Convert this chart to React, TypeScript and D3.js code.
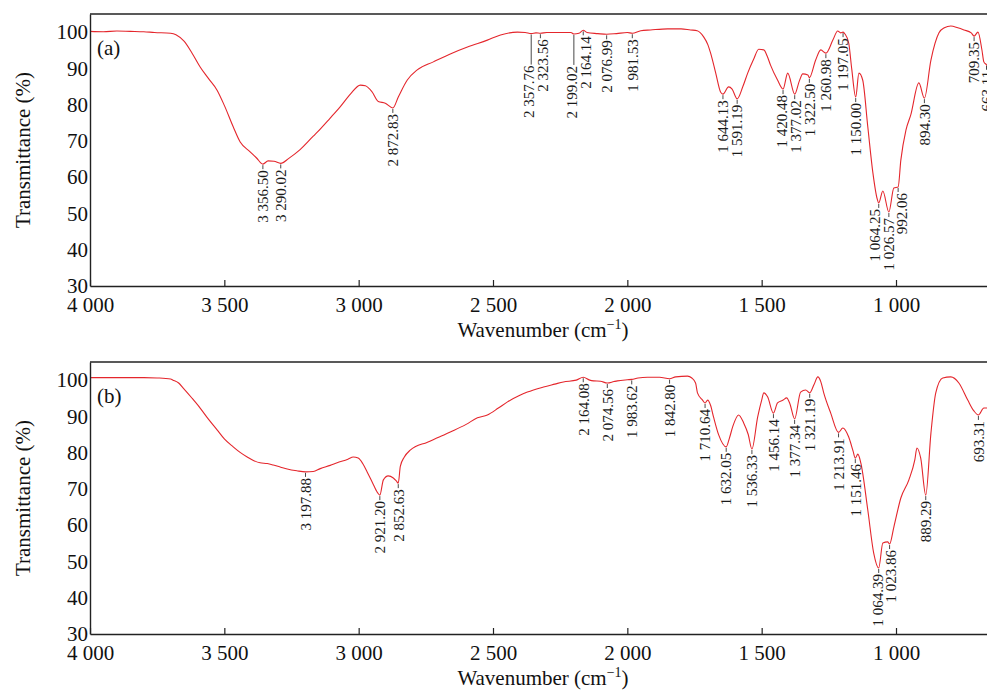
import * as d3 from 'd3';
import { useEffect, useRef } from 'react';

// FTIR spectrum (a): [wavenumber, transmittance %]
const spectrumA: [number, number][] = [
    [4000, 100.2], [3950, 100.1], [3900, 100.3], [3850, 100.2], [3800, 100.1], [3760, 99.9],
    [3700, 99.7], [3680, 99.3], [3650, 97.5], [3620, 94.2], [3590, 90.4], [3560, 87.3],
    [3527, 84.0], [3500, 79.8], [3467, 73.9], [3441, 69.7], [3404, 67.0], [3380, 65.3],
    [3356.5, 63.6], [3337, 64.5], [3315, 64.4], [3290.02, 63.8], [3260, 65.2], [3218, 67.6],
    [3169, 71.3], [3154, 72.4], [3106, 76.3], [3069, 79.4], [3030, 83.0], [2994, 85.4],
    [2975, 85.2], [2950, 83.5], [2927, 80.9], [2901, 80.4], [2872.83, 79.1], [2852, 82.2],
    [2819, 86.8], [2782, 89.6], [2722, 91.8], [2659, 94.0], [2595, 95.9], [2521, 97.8],
    [2472, 99.2], [2409, 100.0], [2380, 99.9], [2357.76, 99.6], [2340, 99.8], [2323.56, 99.7],
    [2300, 99.9], [2250, 99.9], [2210, 99.9], [2199.02, 99.5], [2180, 99.7], [2164.14, 100.5],
    [2150, 99.9], [2110, 99.6], [2076.99, 99.4], [2040, 99.6], [2000, 99.9], [1981.53, 99.7],
    [1950, 100.4], [1914, 100.6], [1850, 100.9], [1800, 100.9], [1765, 100.6], [1740, 100.4],
    [1716, 98.7], [1700, 96.5], [1690, 94.2], [1671, 88.7], [1653, 83.5], [1644.13, 82.9],
    [1623, 84.9], [1610, 84.3], [1591.19, 81.6], [1570, 85.0], [1552, 88.7], [1530, 92.5],
    [1511, 95.3], [1492, 95.1], [1480, 93.5], [1467, 90.9], [1441, 86.8], [1420.48, 84.3],
    [1403, 88.7], [1377.02, 82.9], [1360, 86.5], [1347, 88.5], [1328, 88.2], [1322.5, 87.4],
    [1299, 92.3], [1280, 95.1], [1260.98, 94.2], [1235, 97.8], [1217, 100.3], [1206, 99.8],
    [1197.05, 100.0], [1190, 99.5], [1176, 97.0], [1165, 90.0], [1150, 82.1], [1138, 88.7],
    [1124, 86.8], [1105, 73.9], [1086, 61.2], [1070, 54.0], [1064.25, 52.9], [1049, 56.2],
    [1026.57, 50.4], [1008, 57.0], [992.06, 57.3], [982, 64.7], [963, 73.0], [945, 77.2],
    [915, 86.0], [894.3, 81.8], [870, 92.3], [840, 99.8], [820, 101.2], [796, 101.7],
    [770, 101.2], [747, 100.6], [720, 99.8], [709.35, 98.9], [695, 100.0], [680, 95.0],
    [673, 91.8], [663.11, 91.0], [650, 89.0],
];
const peaksA = [
    3356.5, 3290.02, 2872.83, 2357.76, 2323.56, 2199.02, 2164.14, 2076.99, 1981.53, 1644.13,
    1591.19, 1420.48, 1377.02, 1322.5, 1260.98, 1197.05, 1150.0, 1064.25, 1026.57, 992.06,
    894.3, 709.35, 663.11,
];
// peaks whose label hangs off a long leader line
const leadersA = [2357.76, 2199.02];

// FTIR spectrum (b)
const spectrumB: [number, number][] = [
    [4000, 100.7], [3900, 100.7], [3800, 100.7], [3750, 100.6], [3700, 100.3], [3691, 100.0],
    [3670, 99.2], [3653, 97.8], [3620, 95.0], [3590, 92.3], [3560, 89.3], [3527, 86.3],
    [3500, 83.8], [3467, 81.6], [3440, 80.0], [3415, 78.8], [3390, 77.8], [3367, 77.2],
    [3340, 77.0], [3318, 76.6], [3290, 76.0], [3266, 75.5], [3230, 75.0], [3197.88, 74.7],
    [3169, 74.8], [3143, 75.6], [3106, 76.5], [3080, 77.2], [3040, 78.2], [3020, 78.8],
    [3002, 78.5], [2985, 77.0], [2968, 74.6], [2949, 71.8], [2930, 69.0], [2921.2, 68.3],
    [2908, 72.5], [2890, 73.6], [2871, 73.0], [2860, 72.2], [2852.63, 71.6], [2845, 76.2],
    [2830, 78.8], [2808, 80.7], [2744, 82.9], [2700, 84.3], [2659, 85.7], [2600, 87.8],
    [2558, 89.6], [2521, 90.4], [2480, 92.3], [2446, 94.0], [2400, 95.8], [2372, 96.7],
    [2312, 98.1], [2270, 98.9], [2238, 99.5], [2190, 100.0], [2164.08, 100.8], [2140, 100.0],
    [2126, 99.8], [2100, 99.7], [2074.56, 99.2], [2050, 99.6], [2037, 99.8], [2000, 100.1],
    [1983.62, 100.2], [1960, 100.6], [1925, 100.8], [1880, 100.8], [1842.8, 100.4], [1820, 100.9],
    [1776, 101.1], [1760, 100.6], [1746, 99.2], [1739, 96.5], [1720, 94.5], [1710.64, 93.7],
    [1701, 94.5], [1690, 93.0], [1679, 89.8], [1660, 84.9], [1632.05, 81.6], [1620, 84.0],
    [1608, 87.1], [1586, 90.4], [1567, 88.2], [1550, 85.0], [1536.33, 81.0], [1515, 89.8],
    [1500, 94.5], [1492, 96.5], [1478, 95.4], [1456.14, 90.9], [1441, 93.7], [1420, 94.5],
    [1407, 95.1], [1395, 93.5], [1377.34, 89.3], [1355, 96.7], [1336, 97.3], [1321.19, 96.5],
    [1305, 98.8], [1291, 100.9], [1280, 99.6], [1269, 96.5], [1243, 90.9], [1213.91, 85.6],
    [1198, 86.8], [1176, 84.3], [1160, 80.5], [1151.46, 78.5], [1142, 79.6], [1131, 77.2],
    [1105, 64.2], [1083, 52.3], [1064.39, 48.2], [1049, 55.1], [1031, 55.4], [1023.86, 54.8],
    [1008, 59.5], [982, 67.5], [952, 72.5], [930, 78.0], [922, 81.3], [908, 78.5],
    [889.29, 68.3], [870, 85.4], [852, 96.5], [826, 100.6], [796, 100.9], [766, 99.2],
    [733, 94.5], [710, 91.5], [693.31, 90.4], [673, 92.3], [650, 92.3],
];
const peaksB = [
    3197.88, 2921.2, 2852.63, 2164.08, 2074.56, 1983.62, 1842.8, 1710.64, 1632.05, 1536.33,
    1456.14, 1377.34, 1321.19, 1213.91, 1151.46, 1064.39, 1023.86, 889.29, 693.31,
];
const leadersB: number[] = [];

const xTicks = [4000, 3500, 3000, 2500, 2000, 1500, 1000];
const yTicks = [30, 40, 50, 60, 70, 80, 90, 100];
const panelNames = ['(a)', '(b)'];

const width = 987;
const height = 692;
const FONT = '"Liberation Serif", "Times New Roman", serif';

const spaced = d3.formatLocale({ decimal: '.', thousands: ' ', grouping: [3], currency: ['', ''] });
const tickFmt = spaced.format(',');
const peakFmt = spaced.format(',.2f');

const App = () => {
    const svgRef = useRef<SVGSVGElement>(null);

    useEffect(() => {
        const svg = d3.select(svgRef.current);
        svg.selectAll('*').remove();

        const x = d3.scaleLinear().domain([4000, 661.3]).range([90, width]);

        const panels = [
            { data: spectrumA, peaks: peaksA, leaders: leadersA, top: 14, bottom: 286 },
            { data: spectrumB, peaks: peaksB, leaders: leadersB, top: 362, bottom: 634 },
        ];

        panels.forEach((p, pi) => {
            const y = d3.scaleLinear().domain([30, 105]).range([p.bottom, p.top]);
            const g = svg.append('g');

            const clipId = `clip-${pi}`;
            g.append('clipPath')
                .attr('id', clipId)
                .append('rect')
                .attr('x', 90)
                .attr('y', p.top)
                .attr('width', width - 90)
                .attr('height', p.bottom - p.top);

            // spectrum
            const line = d3
                .line<[number, number]>()
                .x((d) => x(d[0]))
                .y((d) => y(d[1]))
                .curve(d3.curveMonotoneX);
            g.append('path')
                .datum(p.data)
                .attr('clip-path', `url(#${clipId})`)
                .attr('fill', 'none')
                .attr('stroke', '#e4262c')
                .attr('stroke-width', 1.1)
                .attr('d', line);

            // frame: top border, left and bottom axes
            g.append('line')
                .attr('x1', 90)
                .attr('x2', width)
                .attr('y1', p.top)
                .attr('y2', p.top)
                .attr('stroke', '#222')
                .attr('stroke-width', 1.4);

            const xAxis = g
                .append('g')
                .attr('transform', `translate(0, ${p.bottom})`)
                .call(d3.axisBottom(x).tickValues(xTicks).tickFormat((d) => tickFmt(+d)).tickSizeInner(-6).tickSizeOuter(0).tickPadding(11));
            xAxis.select('.domain').attr('stroke', '#222').attr('stroke-width', 1.4);
            xAxis.selectAll('.tick line').attr('stroke', '#222').attr('stroke-width', 1.2);
            xAxis.selectAll('text').attr('font-family', FONT).attr('font-size', 21).attr('fill', '#111');

            const yAxis = g
                .append('g')
                .attr('transform', 'translate(90, 0)')
                .call(d3.axisLeft(y).tickValues(yTicks).tickSizeInner(0).tickSizeOuter(0).tickPadding(2));
            yAxis.select('.domain').attr('stroke', '#222').attr('stroke-width', 1.4);
            yAxis.selectAll('text').attr('font-family', FONT).attr('font-size', 21).attr('fill', '#111');

            // axis titles
            const xt = g
                .append('text')
                .attr('x', 543)
                .attr('y', p.bottom + 51)
                .attr('text-anchor', 'middle')
                .attr('font-family', FONT)
                .attr('font-size', 21)
                .attr('fill', '#111');
            xt.append('tspan').text('Wavenumber (cm');
            xt.append('tspan').attr('font-size', 14).attr('dy', -8).text('\u22121');
            xt.append('tspan').attr('dy', 8).text(')');

            g.append('text')
                .attr('transform', `translate(30, ${(p.top + p.bottom) / 2}) rotate(-90)`)
                .attr('text-anchor', 'middle')
                .attr('font-family', FONT)
                .attr('font-size', 21)
                .attr('fill', '#111')
                .text('Transmittance (%)');

            g.append('text')
                .attr('x', 97)
                .attr('y', p.top + 41)
                .attr('font-family', FONT)
                .attr('font-size', 21)
                .attr('fill', '#111')
                .text(panelNames[pi]);

            // peak labels
            const fs = 15;
            const items = p.peaks
                .map((wn) => {
                    const pt = p.data.find((d) => Math.abs(d[0] - wn) < 0.001) as [number, number];
                    const label = peakFmt(wn);
                    const len = label.split('').reduce((s, c) => s + (c === ' ' || c === '.' ? 0.25 : 0.5), 0) * fs;
                    const lead = p.leaders.includes(wn) ? 30 : 4;
                    const py = y(pt[1]);
                    return { label, x0: x(wn), x: x(wn), py, lead, top: py + lead + 2, len };
                })
                .sort((a, b) => a.x0 - b.x0);

            const gap = 13.5;
            for (let it = 0; it < 80; it++) {
                for (let i = 0; i < items.length; i++) {
                    for (let j = i + 1; j < items.length; j++) {
                        const a = items[i];
                        const b = items[j];
                        const overlap = a.top < b.top + b.len && b.top < a.top + a.len;
                        const dx = b.x - a.x;
                        if (overlap && dx < gap) {
                            const push = (gap - dx) / 2;
                            a.x -= push;
                            b.x += push;
                        }
                    }
                }
            }

            const lg = g.append('g');
            items.forEach((d) => {
                lg.append('line')
                    .attr('x1', d.x0)
                    .attr('x2', d.x0)
                    .attr('y1', d.py + 1)
                    .attr('y2', d.py + d.lead + 1)
                    .attr('stroke', '#333')
                    .attr('stroke-width', 0.9);
                lg.append('text')
                    .attr('transform', `translate(${d.x}, ${d.top}) rotate(-90)`)
                    .attr('text-anchor', 'end')
                    .attr('dy', '0.35em')
                    .attr('font-family', FONT)
                    .attr('font-size', fs)
                    .attr('fill', '#1a1a1a')
                    .text(d.label);
            });
        });
    }, []);

    return (
        <svg
            ref={svgRef}
            width={width}
            height={height}
            style={{ position: 'absolute', left: 0, top: 0, display: 'block', background: '#fff' }}
        />
    );
};

export default App;
